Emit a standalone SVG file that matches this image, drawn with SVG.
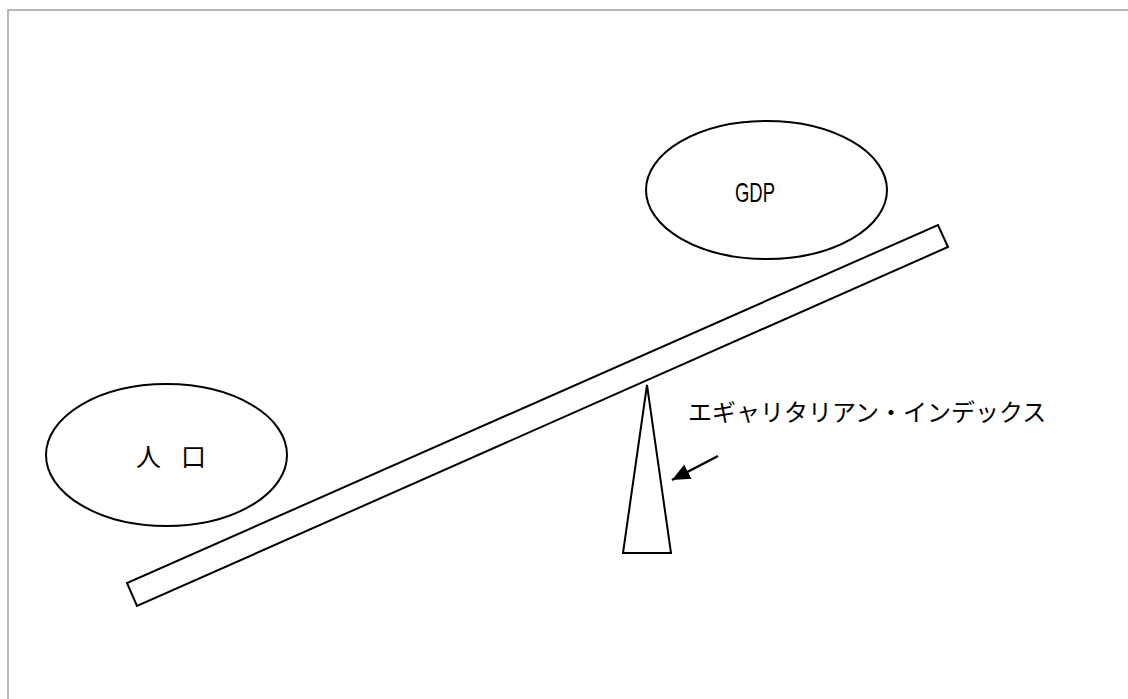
<svg xmlns="http://www.w3.org/2000/svg" width="1128" height="699" viewBox="0 0 1128 699">
<defs>
<style>
.s{fill:#fff;stroke:#000;stroke-width:2}
.t{font-family:"Noto Sans CJK JP","Noto Sans",sans-serif;fill:#000}
</style>
<marker id="ah" markerWidth="18" markerHeight="16" refX="18" refY="8" orient="auto" markerUnits="userSpaceOnUse" viewBox="0 0 18 16">
<path d="M0,0 L18,8 L0,16 z" fill="#000"/>
</marker>
</defs>
<rect width="1128" height="699" fill="#fff"/>
<path d="M8,699 V10 H1128" fill="none" stroke="#a0a0a0" stroke-width="1.5"/>
<g id="gdp">
<ellipse class="s" cx="766.5" cy="190" rx="120.5" ry="69"/>
<text x="755" y="202" font-family="Liberation Sans Narrow, Liberation Sans, sans-serif" font-size="28" text-anchor="middle" textLength="40" lengthAdjust="spacingAndGlyphs">GDP</text>
</g>
<g id="population">
<ellipse class="s" cx="166.5" cy="455" rx="120.5" ry="71"/>
<text class="t" font-size="25" y="466"><tspan x="136">人</tspan><tspan x="181">口</tspan></text>
</g>
<g id="beam">
<polygon class="s" points="127,583 137,606 948,247 938,225"/>
</g>
<g id="fulcrum">
<polygon class="s" points="647,385 671,553 623,553"/>
</g>
<g id="label">
<text class="t" x="688" y="421" font-size="24">エギャリタリアン・インデックス</text>
</g>
<g id="connectors">
<line x1="718" y1="456" x2="672" y2="480" stroke="#000" stroke-width="2.5" marker-end="url(#ah)"/>
</g>
</svg>
